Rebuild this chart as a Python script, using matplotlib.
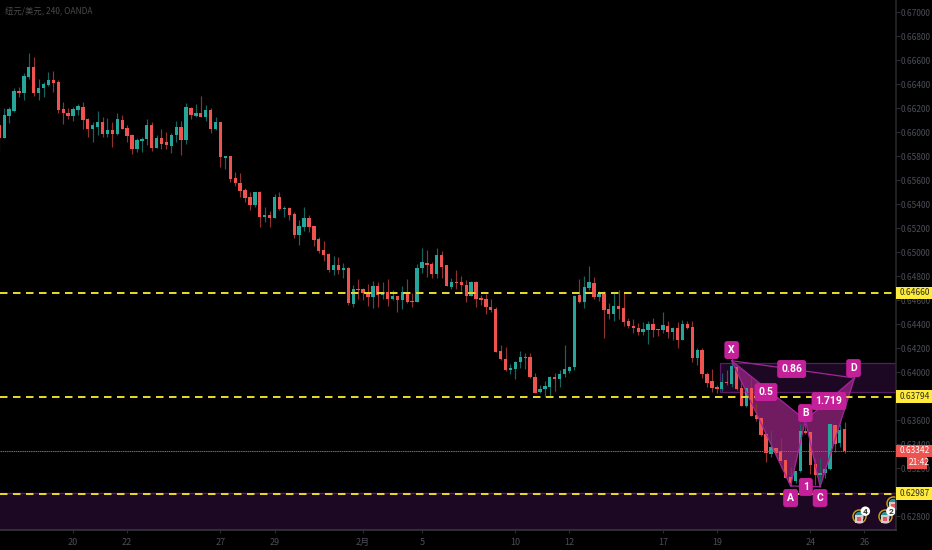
import matplotlib
matplotlib.use("Agg")
import matplotlib.pyplot as plt
from matplotlib.patches import Rectangle, Polygon

plt.rcParams['font.family'] = ['Liberation Sans Narrow', 'Noto Sans CJK SC', 'DejaVu Sans']

# Candle data, in 1e-5 price units
opens = [66058,65953,66136,66175,66344,66322,66461,66544,66322,66364,66392,66433,66414,66192,66158,66133,66183,66208,66106,66022,
66044,66086,65981,66019,65981,66100,66033,65975,65856,65925,65939,66058,65867,65950,65914,65886,65975,66044,65933,66203,
66136,66156,66125,66186,66025,66080,65786,65797,65617,65578,65519,65461,65389,65503,65295,65309,65284,65456,65356,65364,
65314,65142,65211,65284,65214,65109,65017,64984,64847,64892,64847,64870,64570,64692,64689,64661,64628,64717,64642,64664,
64609,64634,64600,64670,64592,64586,64864,64911,64900,64817,64973,64889,64706,64750,64748,64725,64636,64753,64617,64606,
64542,64523,64175,64109,64017,64025,64084,64117,64122,63961,63831,63859,63878,63959,63939,63981,64006,64039,64642,64586,
64700,64742,64628,64650,64523,64486,64553,64534,64425,64386,64367,64336,64350,64400,64359,64350,64386,64334,64364,64267,
64400,64375,64117,64186,63981,63923,63878,63856,63919,63900,64044,63864,63717,63864,63642,63614,63481,63317,63367,63339,
63267,63128,63094,63175,63506,63497,63233,63144,63156,63192,63558,63406,63522]
highs = [66211,66197,66205,66364,66372,66489,66656,66628,66439,66419,66497,66511,66433,66247,66197,66205,66231,66250,66119,66086,
66175,66122,66114,66086,66156,66139,66058,65983,65947,65961,66106,66083,65975,66022,66000,65989,66094,66094,66244,66205,
66233,66300,66225,66197,66128,66083,65800,65800,65664,65661,65530,65497,65503,65510,65373,65342,65481,65498,65384,65373,
65336,65267,65378,65309,65217,65128,65092,64989,64967,64961,64911,64873,64725,64775,64697,64734,64759,64748,64748,64775,
64684,64634,64717,64775,64656,64898,65031,65017,64914,65036,65011,64892,64781,64850,64803,64767,64760,64758,64642,64650,
64606,64539,64225,64206,64067,64095,64178,64156,64161,63989,63892,63928,63967,63995,64017,64225,64050,64642,64775,64800,
64884,64789,64678,64678,64573,64664,64684,64656,64448,64439,64406,64420,64428,64450,64362,64500,64428,64373,64417,64434,
64425,64428,64198,64198,64003,64023,63892,63989,64017,64114,64050,63933,63878,63961,63739,63622,63489,63517,63378,63447,
63272,63211,63178,63567,63578,63503,63281,63281,63211,63564,63561,63567,63586]
lows = [65844,65953,66078,66169,66289,66267,66442,66303,66267,66294,66383,66336,66156,66067,66106,66094,66142,66025,65961,65919,
65975,65956,65961,65878,65975,66022,65914,65817,65836,65831,65892,65844,65864,65858,65856,65828,65919,65808,65900,66108,
66128,66122,66094,65994,66017,65711,65692,65586,65553,65456,65419,65350,65372,65211,65248,65211,65281,65350,65289,65267,
65120,65059,65178,65170,65050,64995,64925,64831,64809,64817,64781,64559,64545,64606,64600,64550,64536,64545,64606,64550,
64600,64503,64522,64573,64545,64586,64828,64795,64781,64781,64786,64717,64695,64689,64678,64586,64636,64545,64559,64484,
64503,64170,64100,64011,63984,63942,64031,64023,63948,63823,63823,63795,63800,63845,63873,63956,63995,64017,64573,64534,
64684,64606,64592,64286,64442,64423,64442,64386,64364,64323,64309,64306,64234,64295,64300,64323,64281,64267,64203,64267,
64359,64086,64059,63948,63878,63836,63823,63845,63892,63878,63850,63717,63711,63633,63594,63467,63253,63289,63308,63253,
63114,63050,63072,63169,63483,63150,63058,63058,63114,63183,63336,63372,63328]
closes = [65953,66142,66189,66344,66322,66469,66544,66322,66364,66400,66433,66411,66183,66156,66133,66189,66217,66100,66022,66056,
66083,65983,66019,65981,66108,66028,65967,65856,65933,65944,66058,65867,65950,65900,65889,65975,66044,65933,66205,66142,
66158,66125,66186,66025,66083,65792,65797,65605,65572,65511,65453,65389,65497,65295,65306,65284,65456,65356,65367,65306,
65139,65217,65284,65209,65100,65011,64975,64850,64889,64847,64870,64575,64692,64684,64656,64628,64717,64642,64664,64609,
64634,64600,64664,64586,64586,64870,64917,64895,64817,64975,64878,64717,64748,64742,64722,64636,64753,64611,64600,64539,
64517,64170,64106,64017,64036,64086,64122,64128,63956,63828,63861,63886,63956,63939,63984,64023,64045,64636,64586,64706,
64748,64628,64653,64517,64486,64553,64525,64414,64381,64364,64336,64359,64400,64350,64350,64392,64334,64364,64267,64400,
64364,64117,64186,63981,63911,63867,63859,63919,63906,64050,63856,63717,63864,63633,63611,63472,63322,63372,63328,63261,
63114,63078,63175,63506,63489,63228,63142,63161,63192,63564,63400,63519,63342]

hlines = [0.64660, 0.63794, 0.62987]
hline_labels = ["0.64660", "0.63794", "0.62987"]
last_price = 0.63342
countdown = "21:42"
yticks = [0.628,0.630,0.632,0.634,0.636,0.638,0.640,0.642,0.644,0.646,0.648,0.650,0.652,0.654,0.656,0.658,0.660,0.662,0.664,0.666,0.668,0.670]
xtick_idx = [15, 26, 45, 56, 74, 86, 105, 116, 135, 146, 165, 176]
xtick_labels = ["20", "22", "27", "29", "2月", "5", "10", "12", "17", "19", "24", "26"]
title = "纽元/美元, 240, OANDA"

# harmonic pattern pivots: (candle index, price)
X = (149, 0.64094); A = (161, 0.63050); B = (164, 0.63600); C = (167, 0.63044); D = (174, 0.63950)
zone_top = (0.63835, 0.64072)
zone_bottom = (0.62680, 0.62990)
pat_labels = [("X", 149, 0.64183), ("A", 161, 0.62950), ("B", 164, 0.63658), ("C", 167, 0.62950), ("D", 173.8, 0.64033),
              ("0.86", 161.2, 0.64025), ("0.5", 156, 0.63833), ("1.719", 168.8, 0.63758), ("1", 164.1, 0.63042)]
icons = [(175, 0.62800, "4"), (180.2, 0.62800, "2"), (181.8, 0.62908, "")]

W, H = 932, 550
RED, GREEN = '#ef5350', '#26a69a'
RED_W, GREEN_W = '#8f3230', '#17645d'
TXT = '#4c4f58'
AXC = '#2b2b30'
YEL = '#ffeb3b'
MAG = '#c4209a'
LABEL_FONT = ['Roboto', 'DejaVu Sans']

fig = plt.figure(figsize=(W/100, H/100), dpi=100, facecolor='black')
ax = fig.add_axes([0, 20/H, 896/W, 530/H], facecolor='black')
xs = list(range(len(opens)))
ax.set_xlim(0.142, 182.44)
ax.set_ylim(0.64 - 158/12000, 0.64 + 372/12000)

# zones
ax.add_patch(Rectangle((0.142, zone_bottom[0]), 183, zone_bottom[1]-zone_bottom[0], fc='#1d0824', ec='none', zorder=1))
ax.axhline(zone_bottom[1], color='#5a1a6a', lw=1.0, zorder=1.2)
ax.add_patch(Rectangle((146.6, zone_top[0]), 40, zone_top[1]-zone_top[0], fc='#1d0824', ec='#5a1a6a', lw=0.9, zorder=1))

# pattern fill sits under the candles
for tri in ([X, A, B], [B, C, D]):
    ax.add_patch(Polygon(tri, closed=True, fc='#a8288f', alpha=0.68, ec='none', zorder=1.5))

# candles
for i in xs:
    o, h, l, c = opens[i]/1e5, highs[i]/1e5, lows[i]/1e5, closes[i]/1e5
    up = c >= o
    ax.vlines(i, l, h, color=GREEN_W if up else RED_W, lw=0.85, zorder=2)
    ax.bar(i, abs(c-o) if abs(c-o) > 4e-5 else 4e-5, bottom=min(o, c), width=0.68,
           color=GREEN if up else RED, lw=0, zorder=3)

for p, q in ((X, A), (A, B), (B, X), (B, C), (C, D), (D, B), (X, D), (A, C)):
    ax.plot([p[0], q[0]], [p[1], q[1]], color='#a3269a', lw=0.9, zorder=3.3)

# level lines
for lv in hlines:
    ax.axhline(lv, color='#e6d52a', lw=1.44, linestyle=(0, (3.75, 2.75)), zorder=4)
ax.axhline(last_price, color='#d8403c', lw=0.75, linestyle=(0, (1.4, 0.7)), zorder=4)

for s, x, y in pat_labels:
    ax.text(x, y, s, color='white', fontsize=7.5, fontweight='bold', ha='center', va='center', zorder=6,
            family=LABEL_FONT,
            bbox=dict(boxstyle='round,pad=0.38,rounding_size=0.25', fc=MAG, ec='none'))

# economic event icons
for x, y, s in icons:
    ax.scatter([x], [y], s=88, c='black', edgecolors='#c99a1e', linewidths=1.1, zorder=7)
    ax.scatter([x], [y], s=48, c='#2d8f92', linewidths=0, zorder=7.1)
    ax.scatter([x], [y-0.00028], s=26, c='#d9c8c8', marker='s', linewidths=0, zorder=7.2)
    ax.scatter([x], [y-0.00028], s=7, c='#e0586a', marker='s', linewidths=0, zorder=7.3)
    if s:
        ax.text(x+1.2, y+0.0004, s, color='#333333', fontsize=6, fontweight='bold', ha='center', va='center', zorder=8,
                family=LABEL_FONT, bbox=dict(boxstyle='circle,pad=0.15', fc='white', ec='none'))

# axes
for k, sp in ax.spines.items():
    sp.set_visible(k in ('right', 'bottom'))
    sp.set_color(AXC if k == 'right' else '#3a3a40')
    sp.set_linewidth(1.1)
    sp.set_zorder(9)
ax.yaxis.tick_right()
ax.set_yticks(yticks)
ax.set_yticklabels([f"{v:.5f}" for v in yticks])
ax.tick_params(axis='y', colors=AXC, labelcolor=TXT, labelsize=6.0, length=3, width=0.8, pad=0.5)
ax.set_xticks(xtick_idx)
ax.set_xticklabels(xtick_labels)
ax.tick_params(axis='x', colors=AXC, labelcolor=TXT, labelsize=6.5, length=2, width=0.8, pad=4)

ax.text(5/896, 1-12/530, title, transform=ax.transAxes, color='#4a4a4a', fontsize=6.0, va='center', ha='left', zorder=10)

# price labels on the axis
trans = ax.get_yaxis_transform()
def tag(y, s, fc, tc, x0=896, x1=932, pad=4):
    ax.add_patch(Rectangle((x0/896, y-0.00052), (x1-x0)/896, 0.00104, transform=trans, fc=fc, ec='none',
                           clip_on=False, zorder=11))
    ax.text((x0+pad)/896, y, s, transform=trans, color=tc, fontsize=6.0, va='center', ha='left', clip_on=False, zorder=12)
for lv, s in zip(hlines, hline_labels):
    tag(lv, s, YEL, '#2e2e1a')
tag(last_price, f"{last_price:.5f}", RED, 'white')
tag(last_price-0.00100, countdown, RED, 'white', x0=907, x1=927, pad=2)

fig.savefig('out.png', dpi=100, facecolor='black')
